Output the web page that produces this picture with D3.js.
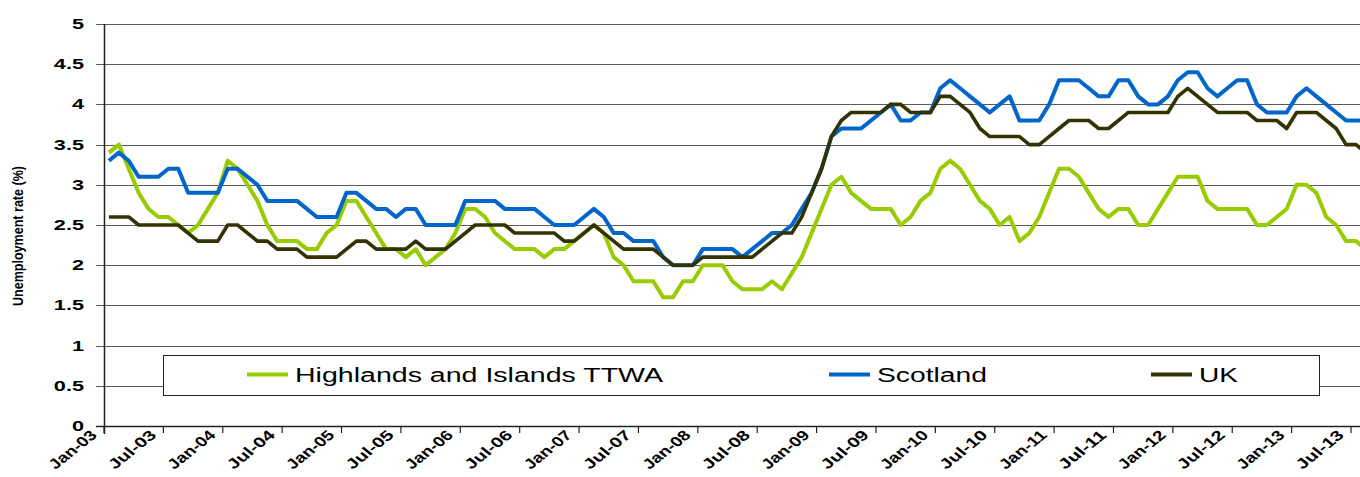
<!DOCTYPE html>
<html><head><meta charset="utf-8">
<script src="https://cdn.jsdelivr.net/npm/d3@7"></script>
<style>html,body{margin:0;padding:0;background:#fff;overflow:hidden}svg{display:block}</style>
</head><body><svg id="c" width="1360" height="477"></svg>
<script>
const seriesNames = ["Highlands and Islands TTWA", "Scotland", "UK"];
const seriesColors = ["#99CC00", "#0066CC", "#333300"];
const highlands = [3.4,3.5,3.2,2.9,2.7,2.6,2.6,2.5,2.4,2.5,
 2.7,2.9,3.3,3.2,3.0,2.8,2.5,2.3,2.3,2.3,
 2.2,2.2,2.4,2.5,2.8,2.8,2.6,2.4,2.2,2.2,
 2.1,2.2,2.0,2.1,2.2,2.4,2.7,2.7,2.6,2.4,
 2.3,2.2,2.2,2.2,2.1,2.2,2.2,2.3,2.4,2.5,
 2.4,2.1,2.0,1.8,1.8,1.8,1.6,1.6,1.8,1.8,
 2.0,2.0,2.0,1.8,1.7,1.7,1.7,1.8,1.7,1.9,
 2.1,2.4,2.7,3.0,3.1,2.9,2.8,2.7,2.7,2.7,
 2.5,2.6,2.8,2.9,3.2,3.3,3.2,3.0,2.8,2.7,
 2.5,2.6,2.3,2.4,2.6,2.9,3.2,3.2,3.1,2.9,
 2.7,2.6,2.7,2.7,2.5,2.5,2.7,2.9,3.1,3.1,
 3.1,2.8,2.7,2.7,2.7,2.7,2.5,2.5,2.6,2.7,
 3.0,3.0,2.9,2.6,2.5,2.3,2.3,2.2];
const scotland = [3.3,3.4,3.3,3.1,3.1,3.1,3.2,3.2,2.9,2.9,
 2.9,2.9,3.2,3.2,3.1,3.0,2.8,2.8,2.8,2.8,
 2.7,2.6,2.6,2.6,2.9,2.9,2.8,2.7,2.7,2.6,
 2.7,2.7,2.5,2.5,2.5,2.5,2.8,2.8,2.8,2.8,
 2.7,2.7,2.7,2.7,2.6,2.5,2.5,2.5,2.6,2.7,
 2.6,2.4,2.4,2.3,2.3,2.3,2.1,2.0,2.0,2.0,
 2.2,2.2,2.2,2.2,2.1,2.2,2.3,2.4,2.4,2.5,
 2.7,2.9,3.2,3.6,3.7,3.7,3.7,3.8,3.9,4.0,
 3.8,3.8,3.9,3.9,4.2,4.3,4.2,4.1,4.0,3.9,
 4.0,4.1,3.8,3.8,3.8,4.0,4.3,4.3,4.3,4.2,
 4.1,4.1,4.3,4.3,4.1,4.0,4.0,4.1,4.3,4.4,
 4.4,4.2,4.1,4.2,4.3,4.3,4.0,3.9,3.9,3.9,
 4.1,4.2,4.1,4.0,3.9,3.8,3.8,3.8];
const uk = [2.6,2.6,2.6,2.5,2.5,2.5,2.5,2.5,2.4,2.3,
 2.3,2.3,2.5,2.5,2.4,2.3,2.3,2.2,2.2,2.2,
 2.1,2.1,2.1,2.1,2.2,2.3,2.3,2.2,2.2,2.2,
 2.2,2.3,2.2,2.2,2.2,2.3,2.4,2.5,2.5,2.5,
 2.5,2.4,2.4,2.4,2.4,2.4,2.3,2.3,2.4,2.5,
 2.4,2.3,2.2,2.2,2.2,2.2,2.1,2.0,2.0,2.0,
 2.1,2.1,2.1,2.1,2.1,2.1,2.2,2.3,2.4,2.4,
 2.6,2.9,3.2,3.6,3.8,3.9,3.9,3.9,3.9,4.0,
 4.0,3.9,3.9,3.9,4.1,4.1,4.0,3.9,3.7,3.6,
 3.6,3.6,3.6,3.5,3.5,3.6,3.7,3.8,3.8,3.8,
 3.7,3.7,3.8,3.9,3.9,3.9,3.9,3.9,4.1,4.2,
 4.1,4.0,3.9,3.9,3.9,3.9,3.8,3.8,3.8,3.7,
 3.9,3.9,3.9,3.8,3.7,3.5,3.5,3.4];
const months = d3.timeMonth.range(new Date(2003,0,1), new Date(2013,8,1)).map(d3.timeFormat("%b-%y"));
const tickLabels = ["Jan-03","Jul-03","Jan-04","Jul-04","Jan-05","Jul-05","Jan-06","Jul-06","Jan-07","Jul-07","Jan-08","Jul-08","Jan-09","Jul-09","Jan-10","Jul-10","Jan-11","Jul-11","Jan-12","Jul-12","Jan-13","Jul-13"];
const yTicks = [0,0.5,1,1.5,2,2.5,3,3.5,4,4.5,5];
const yTitle = "Unemployment rate (%)";

const svg = d3.select("#c");
const pLeft = 104, step = 9.897, pTop = 24, pBottom = 426;
const x = d3.scaleBand().domain(months).range([pLeft, pLeft + step*months.length]).padding(0);
const y = d3.scaleLinear().domain([0,5]).range([pBottom, pTop]);
const cx = m => x(m) + x.bandwidth()/2;

// gridlines + y ticks
svg.append("g").selectAll("line").data(yTicks.filter(v=>v>0)).join("line")
  .attr("x1", pLeft-8).attr("x2", 1360).attr("y1", d=>Math.round(y(d))+0.5).attr("y2", d=>Math.round(y(d))+0.5)
  .attr("stroke", "#5a5a5a").attr("stroke-width", 1);
// y tick labels
svg.append("g").selectAll("text").data(yTicks).join("text")
  .attr("transform", d=>`translate(84,${y(d)+5}) scale(1.55,1)`)
  .attr("text-anchor","end").attr("font-family","Liberation Sans, Arial, sans-serif")
  .attr("font-weight","bold").attr("font-size",14).attr("fill","#000").text(d=>d);
// y axis title
svg.append("text").attr("transform","translate(23,236) rotate(-90)")
  .attr("text-anchor","middle").attr("font-family","Liberation Sans, Arial, sans-serif")
  .attr("font-weight","bold").attr("font-size",15).attr("textLength",140).attr("lengthAdjust","spacingAndGlyphs")
  .text(yTitle);

// lines
const line = d3.line().x((d,i)=>cx(months[i])).y(d=>y(d));
[highlands, scotland, uk].forEach((s,k)=>{
  svg.append("path").datum(s).attr("d", line).attr("fill","none")
    .attr("stroke", seriesColors[k]).attr("stroke-width", k===2?3.6:4).attr("stroke-linejoin","round");
});

// axes
svg.append("line").attr("x1",pLeft+0.5).attr("x2",pLeft+0.5).attr("y1",pTop).attr("y2",pBottom+8).attr("stroke","#222").attr("stroke-width",1.5);
svg.append("line").attr("x1",pLeft-8).attr("x2",1360).attr("y1",pBottom+0.5).attr("y2",pBottom+0.5).attr("stroke","#222").attr("stroke-width",1.5);
const tickIdx = d3.range(0, months.length+1, 6);
svg.append("g").selectAll("line").data(tickIdx).join("line")
  .attr("x1", i=>pLeft + step*i).attr("x2", i=>pLeft + step*i).attr("y1", pBottom).attr("y2", pBottom+7)
  .attr("stroke","#222").attr("stroke-width",1.2);
svg.append("g").selectAll("text").data(tickLabels).join("text")
  .attr("transform",(d,i)=>`translate(${x(months[i*6]) - 6},${pBottom+10}) scale(1.25,1) rotate(-45)`)
  .attr("text-anchor","end").attr("font-family","Liberation Sans, Arial, sans-serif")
  .attr("font-weight","bold").attr("font-size",14).attr("textLength",48).attr("lengthAdjust","spacingAndGlyphs")
  .text(d=>d);

// legend
const lg = svg.append("g");
lg.append("rect").attr("x",163.5).attr("y",355.5).attr("width",1156).attr("height",40).attr("fill","#fff").attr("stroke","#222").attr("stroke-width",1);
const legX = [247, 829, 1151], legTX = [295, 877, 1199], legW = [368, 110, 39];
seriesNames.forEach((n,k)=>{
  lg.append("line").attr("x1",legX[k]).attr("x2",legX[k]+41).attr("y1",374.5).attr("y2",374.5)
    .attr("stroke",seriesColors[k]).attr("stroke-width",4);
  lg.append("text").attr("x",legTX[k]).attr("y",382).attr("font-family","Liberation Sans, Arial, sans-serif")
    .attr("font-size",20).attr("textLength",legW[k]).attr("lengthAdjust","spacingAndGlyphs").attr("fill","#000").text(n);
});
</script></body></html>
